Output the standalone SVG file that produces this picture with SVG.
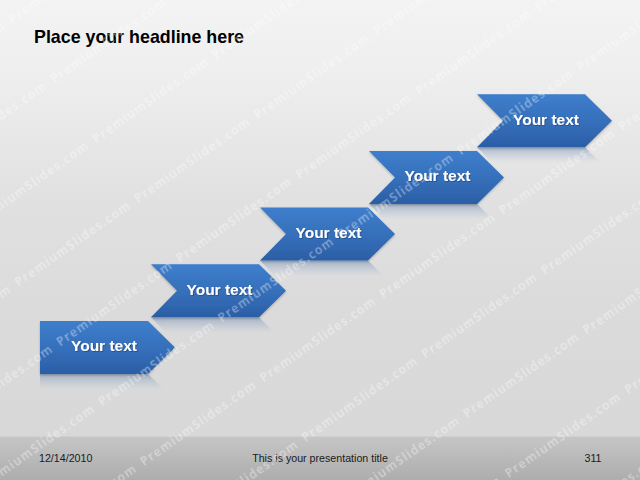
<svg xmlns="http://www.w3.org/2000/svg" width="640" height="480" viewBox="0 0 640 480">
<defs>
<linearGradient id="bg" x1="0" y1="0" x2="0" y2="436" gradientUnits="userSpaceOnUse">
<stop offset="0" stop-color="#f3f3f3"/>
<stop offset="0.15" stop-color="#efefef"/>
<stop offset="0.45" stop-color="#e1e1e1"/>
<stop offset="0.7" stop-color="#dbdbdb"/>
<stop offset="1" stop-color="#d8d8d8"/>
</linearGradient>
<linearGradient id="foot" x1="0" y1="0" x2="0" y2="1">
<stop offset="0" stop-color="#c6c6c6"/>
<stop offset="1" stop-color="#adadad"/>
</linearGradient>
<linearGradient id="blue" x1="0" y1="0" x2="0" y2="1">
<stop offset="0" stop-color="#3e7ecc"/>
<stop offset="0.5" stop-color="#3670bb"/>
<stop offset="1" stop-color="#2b5ea6"/>
</linearGradient>
<linearGradient id="refl" x1="0" y1="0" x2="0" y2="1">
<stop offset="0" stop-color="#5a7eae" stop-opacity="0.45"/>
<stop offset="0.3" stop-color="#9aaec8" stop-opacity="0"/>
</linearGradient>
<filter id="ts" x="-10%" y="-30%" width="120%" height="160%">
<feDropShadow dx="0.8" dy="0.8" stdDeviation="0.6" flood-color="#123060" flood-opacity="0.6"/>
</filter>
<filter id="sh" x="-5%" y="-10%" width="110%" height="130%">
<feDropShadow dx="0" dy="1.2" stdDeviation="1" flood-color="#000" flood-opacity="0.25"/>
</filter>
<path id="chev" d="M0,0 H108 L135,26.5 L108,53 H0 L26,26.5 Z"/>
<path id="chevRefl" d="M0,53 H108 L135,79.5 L108,106 H0 L26,79.5 Z"/>
<path id="pent" d="M0,0 H108 L135,26.5 L108,53 H0 Z"/>
<path id="pentRefl" d="M0,53 H108 L135,79.5 L108,106 H0 Z"/>
<pattern id="wmPat" patternUnits="userSpaceOnUse" x="-5.4" y="-13.4" width="146" height="73" patternTransform="rotate(-35)">
<text x="2" y="40" font-family="Open Sans, DejaVu Sans, sans-serif" font-weight="600" font-size="12" letter-spacing="1.4" fill="#fff" fill-opacity="0.4">PremiumSlides.com</text>
</pattern>
</defs>
<style>
.arrow{fill:url(#blue);filter:url(#sh)}
.refl{fill:url(#refl)}
.lbl{font-family:"Liberation Sans",Arial,sans-serif;font-weight:bold;font-size:15.5px;fill:#fff;text-anchor:middle;filter:url(#ts)}
.foot{font-family:"Liberation Sans",Arial,sans-serif;font-size:10.67px;fill:#1a1a1a}
</style>
<rect x="0" y="0" width="640" height="436" fill="url(#bg)"/>
<rect x="0" y="436" width="640" height="44" fill="url(#foot)"/>
<line x1="0" y1="436.5" x2="640" y2="436.5" stroke="#d0d0d0" stroke-width="1"/>
<text x="34" y="43.3" font-family="Liberation Sans,Arial,sans-serif" font-weight="bold" font-size="19" fill="#000" textLength="210" lengthAdjust="spacingAndGlyphs">Place your headline here</text>
<g id="connectors"/>
<g id="step1" transform="translate(40,321)">
<use href="#pentRefl" class="refl"/>
<use href="#pent" class="arrow"/>
<text class="lbl" x="64" y="30">Your text</text>
</g>
<g id="step2" transform="translate(151,264.3)">
<use href="#chevRefl" class="refl"/>
<use href="#chev" class="arrow"/>
<text class="lbl" x="68.5" y="30.5">Your text</text>
</g>
<g id="step3" transform="translate(260,207.6)">
<use href="#chevRefl" class="refl"/>
<use href="#chev" class="arrow"/>
<text class="lbl" x="68.5" y="30">Your text</text>
</g>
<g id="step4" transform="translate(369,150.9)">
<use href="#chevRefl" class="refl"/>
<use href="#chev" class="arrow"/>
<text class="lbl" x="68.5" y="30">Your text</text>
</g>
<g id="step5" transform="translate(477,94.2)">
<use href="#chevRefl" class="refl"/>
<use href="#chev" class="arrow"/>
<text class="lbl" x="69" y="30.5">Your text</text>
</g>
<g id="footer">
<text class="foot" x="39" y="462">12/14/2010</text>
<text class="foot" x="320" y="462" text-anchor="middle">This is your presentation title</text>
<text class="foot" x="584.5" y="462">311</text>
</g>
<rect id="watermark" x="0" y="0" width="640" height="480" fill="url(#wmPat)"/>
</svg>
